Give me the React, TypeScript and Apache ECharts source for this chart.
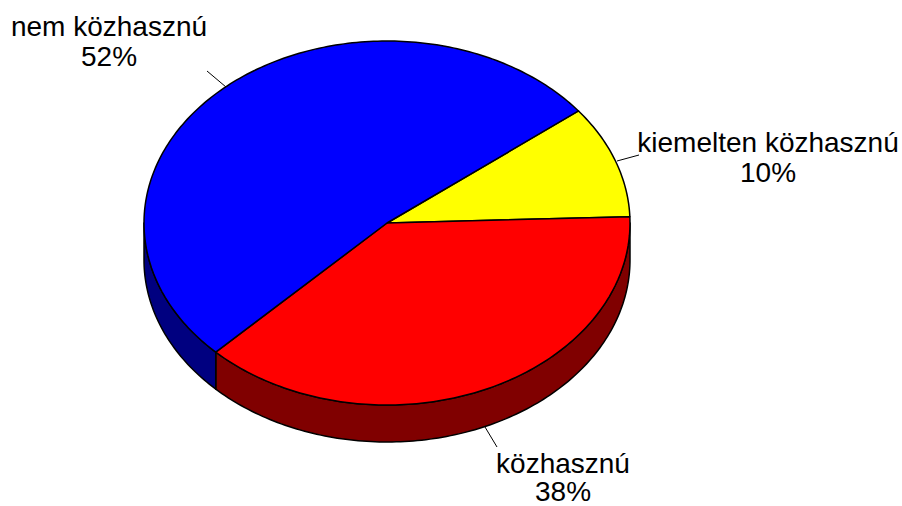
import React, { useEffect, useRef } from "react";
import * as echarts from "echarts";

const categories = ["kiemelten közhasznú", "közhasznú", "nem közhasznú"];
const shares = [10, 38, 52];
const topColors = ["#ffff00", "#ff0000", "#0000ff"];
const sideColors = ["#808000", "#800000", "#000080"];
const labelAnchors = [[768, 157.5], [563, 477.5], [109, 41]];
const labelLineHeights = [30, 28, 30];
const leaderEnds = [[[639, 155], [617, 161]], [[497, 447], [485, 427]], [[207, 71], [226, 87]]];

const cx = 387, cy = 223, rx = 243, ry = 182, depth = 37;
const startDeg = 38;
const total = shares.reduce((a, b) => a + b, 0);
const px = (deg: number, dy = 0) => {
  const r = (deg * Math.PI) / 180;
  return [cx + rx * Math.cos(r), cy - ry * Math.sin(r) + dy];
};
const arc = (a0: number, a1: number, dy: number) => {
  const parts: string[] = [];
  const step = a1 > a0 ? 1 : -1;
  for (let a = a0; step > 0 ? a < a1 : a > a1; a += step) {
    const [x, y] = px(a, dy);
    parts.push(`L${x.toFixed(2)} ${y.toFixed(2)}`);
  }
  const [x, y] = px(a1, dy);
  parts.push(`L${x.toFixed(2)} ${y.toFixed(2)}`);
  return parts;
};

export default function App() {
  const ref = useRef<HTMLDivElement>(null);
  useEffect(() => {
    const chart = echarts.init(ref.current!, null, { renderer: "svg" });
    const renderItem = (params: any, api: any) => {
      const i = params.dataIndex;
      const before = shares.slice(0, i).reduce((a, b) => a + b, 0);
      const a0 = startDeg - (before / total) * 360;
      const a1 = a0 - (api.value(0) / total) * 360;
      const stroke = { stroke: "#000", lineWidth: 1.5, lineJoin: "round" };
      const children: any[] = [];
      // visible outer wall: lower half of ellipse, angles in [-180, 0]
      const wa0 = Math.min(a0, 0);
      const wa1 = Math.max(a1, -180);
      if (wa0 > wa1) {
        const top = arc(wa0, wa1, 0);
        const bot = arc(wa1, wa0, depth);
        const d = "M" + top.join(" ").slice(1) + " " + bot.join(" ") + " Z";
        children.push({
          type: "path",
          shape: { pathData: d },
          style: { fill: sideColors[i], ...stroke },
        });
      }
      const topPath = `M${cx} ${cy} ` + arc(a0, a1, 0).join(" ") + " Z";
      children.push({
        type: "path",
        shape: { pathData: topPath },
        style: { fill: topColors[i], ...stroke },
      });
      const [p, q] = leaderEnds[i];
      children.push({
        type: "line",
        shape: { x1: p[0], y1: p[1], x2: q[0], y2: q[1] },
        style: { stroke: "#000", lineWidth: 1 },
      });
      const [lx, ly] = labelAnchors[i];
      children.push({
        type: "text",
        x: lx,
        y: ly,
        style: {
          text: `${categories[i]}\n${api.value(0)}%`,
          fill: "#000",
          font: '28px "Liberation Sans", Arial, sans-serif',
          align: "center",
          verticalAlign: "middle",
          lineHeight: labelLineHeights[i],
        },
      });
      return { type: "group", children };
    };
    chart.setOption({
      animation: false,
      backgroundColor: "#fff",
      series: [
        {
          type: "custom",
          coordinateSystem: "none",
          renderItem,
          data: shares.map((v) => [v]),
          clip: false,
        },
      ],
    });
    return () => chart.dispose();
  }, []);
  return (
    <div
      ref={ref}
      style={{ width: 902, height: 506, position: "absolute", left: 0, top: 0 }}
    />
  );
}
